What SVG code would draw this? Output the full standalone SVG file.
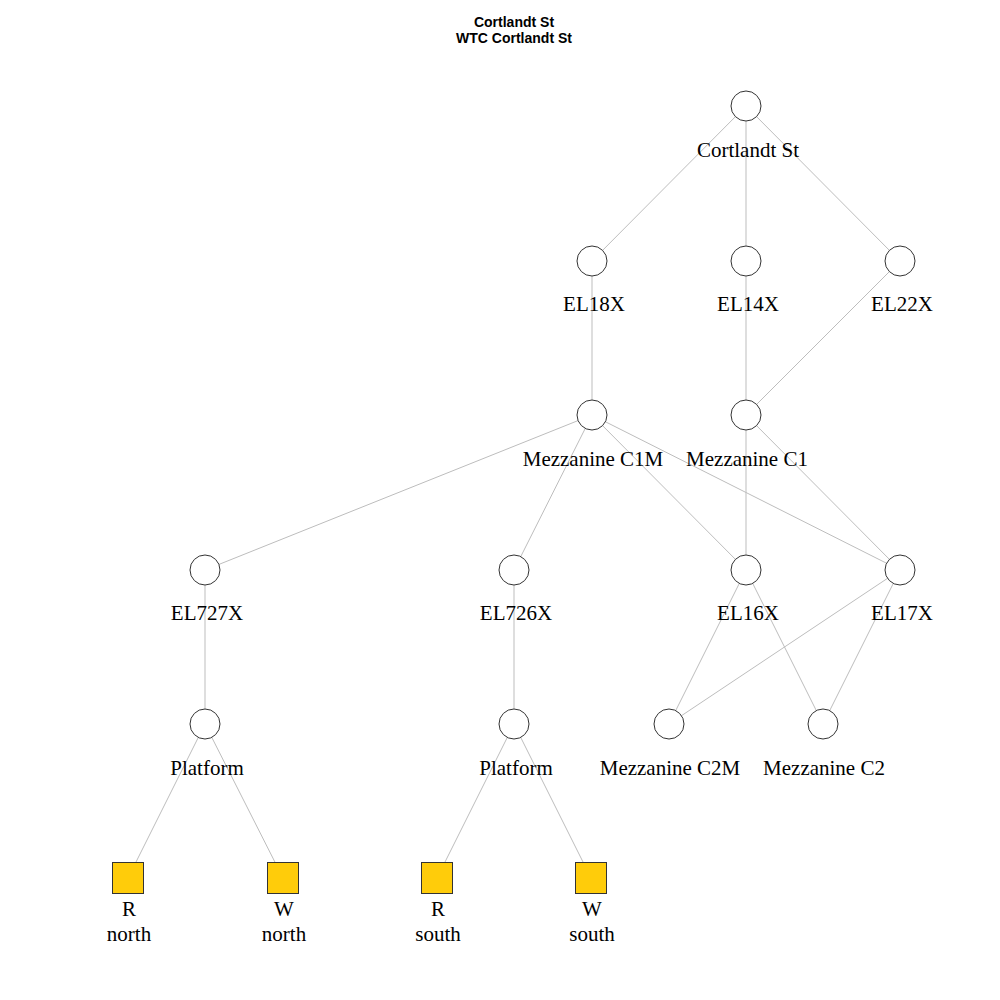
<svg xmlns="http://www.w3.org/2000/svg" width="1000" height="1000" viewBox="0 0 1000 1000">
<style>
  .edge { stroke: #bdbdbd; stroke-width: 1; fill: none; }
  .node circle { fill: #ffffff; stroke: #333333; stroke-width: 1; }
  .node rect { fill: #ffcc0a; stroke: #333333; stroke-width: 1; }
  .lbl { font-family: "Liberation Serif", "Times New Roman", serif; font-size: 21px; fill: #000; text-anchor: middle; }
  .title { font-family: "Liberation Sans", Arial, sans-serif; font-size: 14px; font-weight: bold; fill: #000; text-anchor: middle; }
</style>
<rect width="1000" height="1000" fill="#ffffff"/>
<text class="title" x="514" y="27">Cortlandt St</text>
<text class="title" x="514" y="43">WTC Cortlandt St</text>

<g id="connectors">
  <line class="edge" x1="746" y1="106" x2="592" y2="261"/>
  <line class="edge" x1="746" y1="106" x2="746" y2="261"/>
  <line class="edge" x1="746" y1="106" x2="900" y2="261"/>
  <line class="edge" x1="592" y1="261" x2="592" y2="415"/>
  <line class="edge" x1="746" y1="261" x2="746" y2="415"/>
  <line class="edge" x1="900" y1="261" x2="746" y2="415"/>
  <line class="edge" x1="592" y1="415" x2="205" y2="570"/>
  <line class="edge" x1="592" y1="415" x2="514" y2="570"/>
  <line class="edge" x1="592" y1="415" x2="746" y2="570"/>
  <line class="edge" x1="592" y1="415" x2="900" y2="570"/>
  <line class="edge" x1="746" y1="415" x2="746" y2="570"/>
  <line class="edge" x1="746" y1="415" x2="900" y2="570"/>
  <line class="edge" x1="205" y1="570" x2="205" y2="724"/>
  <line class="edge" x1="514" y1="570" x2="514" y2="724"/>
  <line class="edge" x1="746" y1="570" x2="669" y2="724"/>
  <line class="edge" x1="746" y1="570" x2="823" y2="724"/>
  <line class="edge" x1="900" y1="570" x2="669" y2="724"/>
  <line class="edge" x1="900" y1="570" x2="823" y2="724"/>
  <line class="edge" x1="205" y1="724" x2="128" y2="878"/>
  <line class="edge" x1="205" y1="724" x2="283" y2="878"/>
  <line class="edge" x1="514" y1="724" x2="437" y2="878"/>
  <line class="edge" x1="514" y1="724" x2="591" y2="878"/>
</g>

<g id="n-cortlandt" class="node"><circle cx="746" cy="106" r="15"/><text class="lbl" x="748" y="157">Cortlandt St</text></g>
<g id="n-el18x" class="node"><circle cx="592" cy="261" r="15"/><text class="lbl" x="594" y="311">EL18X</text></g>
<g id="n-el14x" class="node"><circle cx="746" cy="261" r="15"/><text class="lbl" x="748" y="311">EL14X</text></g>
<g id="n-el22x" class="node"><circle cx="900" cy="261" r="15"/><text class="lbl" x="902" y="311">EL22X</text></g>
<g id="n-c1m" class="node"><circle cx="592" cy="415" r="15"/><text class="lbl" x="593" y="466">Mezzanine C1M</text></g>
<g id="n-c1" class="node"><circle cx="746" cy="415" r="15"/><text class="lbl" x="747" y="466">Mezzanine C1</text></g>
<g id="n-el727x" class="node"><circle cx="205" cy="570" r="15"/><text class="lbl" x="207" y="620">EL727X</text></g>
<g id="n-el726x" class="node"><circle cx="514" cy="570" r="15"/><text class="lbl" x="516" y="620">EL726X</text></g>
<g id="n-el16x" class="node"><circle cx="746" cy="570" r="15"/><text class="lbl" x="748" y="620">EL16X</text></g>
<g id="n-el17x" class="node"><circle cx="900" cy="570" r="15"/><text class="lbl" x="902" y="620">EL17X</text></g>
<g id="n-platform-1" class="node"><circle cx="205" cy="724" r="15"/><text class="lbl" x="207" y="775">Platform</text></g>
<g id="n-platform-2" class="node"><circle cx="514" cy="724" r="15"/><text class="lbl" x="516" y="775">Platform</text></g>
<g id="n-c2m" class="node"><circle cx="669" cy="724" r="15"/><text class="lbl" x="670" y="775">Mezzanine C2M</text></g>
<g id="n-c2" class="node"><circle cx="823" cy="724" r="15"/><text class="lbl" x="824" y="775">Mezzanine C2</text></g>
<g id="n-r-north" class="node"><rect x="112.5" y="862.5" width="31" height="31"/><text class="lbl" x="129" y="916">R</text><text class="lbl" x="129" y="941">north</text></g>
<g id="n-w-north" class="node"><rect x="267.5" y="862.5" width="31" height="31"/><text class="lbl" x="284" y="916">W</text><text class="lbl" x="284" y="941">north</text></g>
<g id="n-r-south" class="node"><rect x="421.5" y="862.5" width="31" height="31"/><text class="lbl" x="438" y="916">R</text><text class="lbl" x="438" y="941">south</text></g>
<g id="n-w-south" class="node"><rect x="575.5" y="862.5" width="31" height="31"/><text class="lbl" x="592" y="916">W</text><text class="lbl" x="592" y="941">south</text></g>
</svg>
